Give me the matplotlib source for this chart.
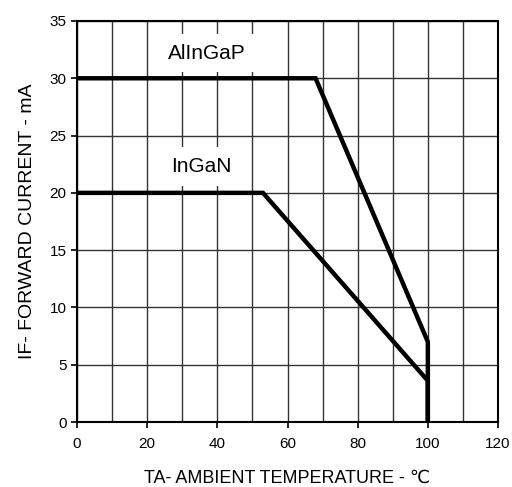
import matplotlib.pyplot as plt
import matplotlib
import numpy as np

matplotlib.rcParams['font.family'] = ['Liberation Sans Narrow', 'Liberation Sans', 'DejaVu Sans']

# derating curves: forward current vs ambient temperature
alingap_temp = [0, 68, 100, 100]
alingap_current = [30, 30, 7, 0]
ingan_temp = [0, 53, 100, 100]
ingan_current = [20, 20, 3.6, 0]

x_ticks = [0, 20, 40, 60, 80, 100, 120]
y_ticks = [0, 5, 10, 15, 20, 25, 30, 35]

fig = plt.figure(figsize=(5.12, 4.87), dpi=100)
ax = fig.add_axes([77/512, 1 - 422/487, 421/512, 401/487])

ax.set_xlim(0, 120)
ax.set_ylim(0, 35)
ax.set_xticks(x_ticks)
ax.set_yticks(y_ticks)
ax.set_xticks(np.arange(0, 121, 10), minor=True)
ax.tick_params(which='minor', length=0)
ax.tick_params(labelsize=11, length=4, width=1.2)
ax.tick_params(axis='x', pad=7)
ax.grid(which='both', color='#333333', linewidth=1.0)
for s in ax.spines.values():
    s.set_linewidth(1.5)

ax.plot(alingap_temp, alingap_current, color='black', linewidth=3.2, solid_joinstyle='miter', zorder=3)
ax.plot(ingan_temp, ingan_current, color='black', linewidth=3.2, solid_joinstyle='miter', zorder=3)

box = dict(facecolor='white', edgecolor='none', pad=7)
ax.text(37, 32.2, 'AlInGaP', fontsize=15, ha='center', va='center', bbox=box, zorder=2)
ax.text(35.5, 22.3, 'InGaN', fontsize=15, ha='center', va='center', bbox=box, zorder=2)

ax.set_xlabel('TA- AMBIENT TEMPERATURE - ℃', fontsize=13, labelpad=13)
ax.set_ylabel('IF- FORWARD CURRENT - mA', fontsize=14, labelpad=10)

plt.savefig('out.png', dpi=100)
plt.close()
